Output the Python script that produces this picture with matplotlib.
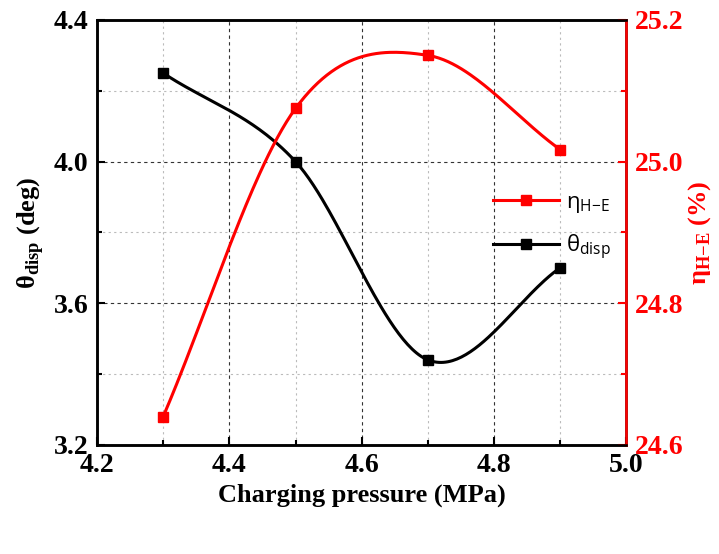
import matplotlib
matplotlib.use("Agg")
import matplotlib.pyplot as plt
from matplotlib.ticker import MultipleLocator
import numpy as np

# Data
pressure = [4.3, 4.5, 4.7, 4.9]            # MPa
theta_disp = [4.25, 4.00, 3.44, 3.70]      # deg
eta_he = [24.64, 25.075, 25.15, 25.017]    # %

plt.rcParams['mathtext.fontset'] = 'custom'
plt.rcParams['mathtext.rm'] = 'Liberation Serif'
plt.rcParams['mathtext.bf'] = 'Liberation Serif:bold'
plt.rcParams['mathtext.sf'] = 'Open Sans'


def smooth_curve(x, y, n=60):
    """Catmull-Rom style Hermite curve through the points (for drawing only)"""
    x = np.asarray(x, float)
    y = np.asarray(y, float)
    k = len(x)
    m = np.zeros(k)
    for i in range(k):
        if i == 0:
            m[i] = (y[1] - y[0]) / (x[1] - x[0])
        elif i == k - 1:
            m[i] = (y[-1] - y[-2]) / (x[-1] - x[-2])
        else:
            m[i] = (y[i + 1] - y[i - 1]) / (x[i + 1] - x[i - 1])
    xs_all, ys_all = [], []
    for i in range(k - 1):
        h = x[i + 1] - x[i]
        t = np.linspace(0, 1, n)
        h00 = 2 * t**3 - 3 * t**2 + 1
        h10 = t**3 - 2 * t**2 + t
        h01 = -2 * t**3 + 3 * t**2
        h11 = t**3 - t**2
        xs_all.append(x[i] + t * h)
        ys_all.append(h00 * y[i] + h10 * h * m[i] + h01 * y[i + 1] + h11 * h * m[i + 1])
    return np.concatenate(xs_all), np.concatenate(ys_all)


fig = plt.figure(figsize=(7.19, 5.54), dpi=100)
ax = fig.add_axes([0.135, 0.197, 0.736, 0.767])
ax2 = ax.twinx()

serif = 'Liberation Serif'

# black curve (left axis)
xs, ys = smooth_curve(pressure, theta_disp)
ax.plot(xs, ys, color='black', linewidth=2.2, zorder=3)
ax.plot(pressure, theta_disp, 's', color='black', markersize=7, zorder=4)

# red curve (right axis)
xs, ys = smooth_curve(pressure, eta_he)
ax2.plot(xs, ys, color='red', linewidth=2.2, zorder=3)
ax2.plot(pressure, eta_he, 's', color='red', markersize=7, zorder=4)

# axes limits and ticks
ax.set_xlim(4.2, 5.0)
ax.set_ylim(3.2, 4.4)
ax2.set_ylim(24.6, 25.2)
ax.xaxis.set_major_locator(MultipleLocator(0.2))
ax.xaxis.set_minor_locator(MultipleLocator(0.1))
ax.yaxis.set_major_locator(MultipleLocator(0.4))
ax.yaxis.set_minor_locator(MultipleLocator(0.2))
ax2.yaxis.set_major_locator(MultipleLocator(0.2))
ax2.yaxis.set_minor_locator(MultipleLocator(0.1))
ax.xaxis.set_major_formatter(plt.FuncFormatter(lambda v, p: f'{v:.1f}'))
ax.yaxis.set_major_formatter(plt.FuncFormatter(lambda v, p: f'{v:.1f}'))
ax2.yaxis.set_major_formatter(plt.FuncFormatter(lambda v, p: f'{v:.1f}'))

ax.tick_params(axis='both', which='major', direction='in', length=6, width=1.5,
               labelsize=20, pad=6)
ax.tick_params(axis='both', which='minor', direction='in', length=3.5, width=1.5)
ax.tick_params(axis='y', which='both', right=False)
ax.tick_params(axis='x', which='both', top=False)
ax2.tick_params(axis='y', which='major', direction='in', length=6, width=1.5,
                labelsize=20, colors='red', pad=6)
ax2.tick_params(axis='y', which='minor', direction='in', length=3.5, width=1.5,
                colors='red')
for lab in ax.get_xticklabels() + ax.get_yticklabels() + ax2.get_yticklabels():
    lab.set_fontfamily(serif)
    lab.set_fontweight('bold')

# grid
ax.grid(True, which='major', linestyle=(0, (3, 3)), color='#333333', linewidth=0.8)
ax.grid(True, which='minor', linestyle=(0, (2, 3)), color='#bbbbbb', linewidth=0.8)
ax.set_axisbelow(True)

# spines
for s in ax.spines.values():
    s.set_linewidth(1.8)
for s in ax2.spines.values():
    s.set_linewidth(1.8)
ax2.spines['right'].set_color('red')

# labels
ax.set_xlabel('Charging pressure (MPa)', fontsize=19, fontweight='bold',
              fontfamily=serif, labelpad=4)
ax.set_ylabel(r'θ$_{\mathbf{disp}}$ (deg)', fontsize=19, fontweight='bold',
              fontfamily=serif, labelpad=6)
ax2.set_ylabel(r'η$_{\mathbf{H{-}E}}$ (%)', fontsize=19, fontweight='bold',
               fontfamily=serif, color='red', labelpad=2)

# legend
h1, = ax2.plot([], [], '-s', color='red', linewidth=2.2, markersize=7)
h2, = ax2.plot([], [], '-s', color='black', linewidth=2.2, markersize=7)
ax2.legend([h1, h2], [r'η$_{\mathsf{H{-}E}}$', r'θ$_{\mathsf{disp}}$'],
           loc='upper left', bbox_to_anchor=(0.71, 0.643), frameon=False,
           prop={'family': 'Open Sans', 'size': 16}, handlelength=3.0,
           handletextpad=0.3, labelspacing=0.8)

plt.savefig('out.png', dpi=100, facecolor='white')
